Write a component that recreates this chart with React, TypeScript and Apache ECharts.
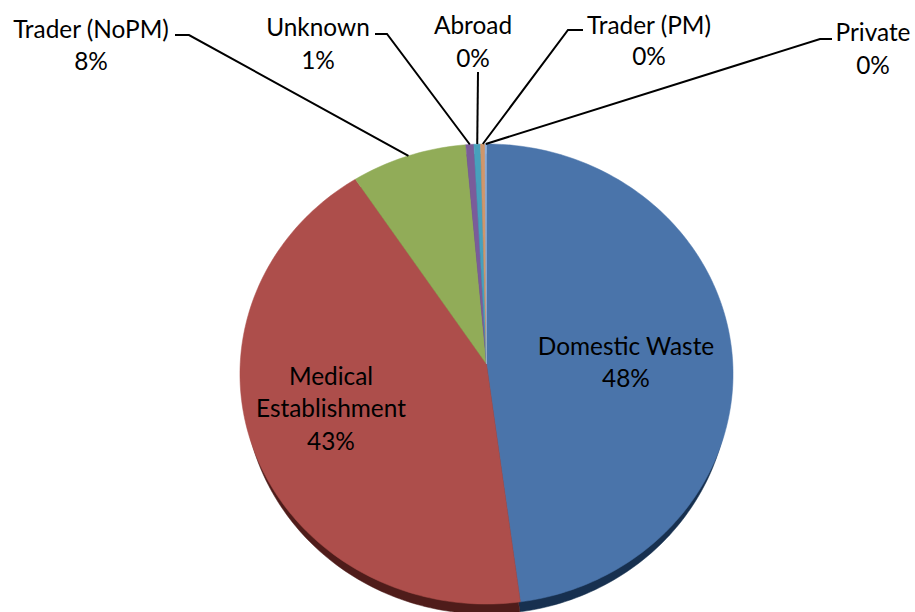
import React, { useEffect, useRef } from "react";
import * as echarts from "echarts";

const categories = ["Domestic Waste", "Medical Establishment", "Trader (NoPM)", "Unknown", "Abroad", "Trader (PM)", "Private"];
const values = [47.9, 42.8, 7.9, 0.55, 0.45, 0.3, 0.1];
const colors = ["#4a74aa", "#ad4e4b", "#91ac58", "#7a5c9a", "#47a0bc", "#d0966a", "#8fb0dc"];
const rimColors = ["#17304f", "#4f1c1a", "#44521f", "#382849", "#1d4a58", "#6b4420", "#4a5f80"];

// label layout, per category: label centre, first-line centre y, line break, elbow of the leader
const labelLines = [["Domestic Waste"], ["Medical", "Establishment"], ["Trader (NoPM)"], ["Unknown"], ["Abroad"], ["Trader (PM)"], ["Private"]];
const labelX = [626, 331, 91, 318, 473, 649, 873];
const labelY = [345, 375, 28, 26, 24, 24, 31];
const lineGap = [32, 32.5, 32, 33, 33, 31, 33];
const leaders: (number[][] | null)[] = [
  null, null,
  [[175, 35], [189, 35]],
  [[375, 34], [387, 34]],
  [[478, 72]],
  [[583, 30], [568, 30]],
  [[832, 39], [820, 39]],
];

const CX = 486.5, CY = 364, HALF_W = 246.3, PERSP = 0.0435, VERT = 229.6, RIM = 10, RIM_SCALE = 0.985;
const FONT = "Lato, 'Noto Sans', sans-serif";

const total = values.reduce((a, b) => a + b, 0);
const cumulative = values.map((_, i) => values.slice(0, i).reduce((a, b) => a + b, 0));
// tilted-disc projection: a share of the total becomes a point on the tilted rim
const project = (share: number, radius = 1, dy = 0, sx = 1): number[] => {
  const t = (share / total) * Math.PI * 2;
  const X = Math.sin(t) * radius, Y = Math.cos(t) * radius;
  const w = 1 + PERSP * Y;
  return [CX + (sx * HALF_W * X) / w, CY - (VERT * Y) / w + dy];
};
const slicePoints = (i: number, dy: number, sx: number) => {
  const pts = [project(0, 0, dy, sx)];
  const n = Math.max(2, Math.ceil(values[i] * 3));
  for (let k = 0; k <= n; k++) pts.push(project(cumulative[i] + (values[i] * k) / n, 1, dy, sx));
  return pts;
};

export default function App() {
  const ref = useRef<HTMLDivElement>(null);
  useEffect(() => {
    const chart = echarts.init(ref.current!, undefined, { renderer: "svg" });
    const data = categories.map((name, i) => ({ name, value: values[i] }));
    chart.setOption({
      animation: false,
      backgroundColor: "#ffffff",
      series: [
        {
          type: "custom",
          coordinateSystem: "none",
          silent: true,
          data,
          z: 1,
          renderItem: (params: any) => ({
            type: "polygon",
            shape: { points: slicePoints(params.dataIndex, RIM, RIM_SCALE) },
            style: { fill: rimColors[params.dataIndex], stroke: rimColors[params.dataIndex], lineWidth: 0.5 },
          }),
        },
        {
          type: "custom",
          coordinateSystem: "none",
          silent: true,
          data,
          z: 2,
          renderItem: (params: any) => ({
            type: "polygon",
            shape: { points: slicePoints(params.dataIndex, 0, 1) },
            style: { fill: colors[params.dataIndex], stroke: colors[params.dataIndex], lineWidth: 0.5 },
          }),
        },
        {
          type: "custom",
          coordinateSystem: "none",
          silent: true,
          data,
          z: 3,
          renderItem: (params: any) => {
            const i = params.dataIndex;
            const lines = [...labelLines[i], `${Math.round((values[i] / total) * 100)}%`];
            const children: any[] = lines.map((text, k) => ({
              type: "text",
              style: {
                text,
                x: labelX[i],
                y: labelY[i] + k * lineGap[i],
                fill: "#000000",
                font: `24.4px ${FONT}`,
                textAlign: "center",
                textVerticalAlign: "middle",
              },
            }));
            const elbow = leaders[i];
            if (elbow) {
              children.push({
                type: "polyline",
                shape: { points: [...elbow, project(cumulative[i] + values[i] / 2)] },
                style: { stroke: "#000000", lineWidth: 2, fill: null },
              });
            }
            return { type: "group", children };
          },
        },
      ],
    });
    return () => chart.dispose();
  }, []);
  return <div ref={ref} style={{ position: "absolute", left: 0, top: 0, width: 915, height: 612 }} />;
}
